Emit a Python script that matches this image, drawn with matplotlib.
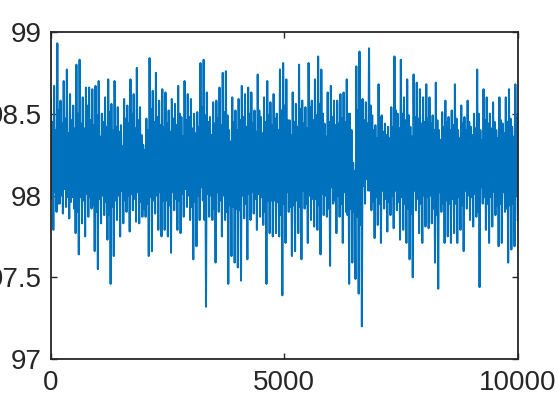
import numpy as np
import matplotlib
matplotlib.use("Agg")
from matplotlib import pyplot as plt

# tops of the spikes, read left to right off the picture
peaks = [98.59, 98.67, 98.93, 98.58, 98.70, 98.77, 98.62, 98.55, 98.80, 98.83,
         98.60, 98.66, 98.66, 98.65, 98.67, 98.70, 98.50, 98.60, 98.71, 98.56,
         98.70, 98.54, 98.43, 98.59, 98.55, 98.71, 98.62, 98.78, 98.54, 98.31,
         98.47, 98.84, 98.64, 98.75, 98.58, 98.65,
         98.63, 98.52, 98.59, 98.56, 98.67, 98.48, 98.70, 98.62, 98.59, 98.50,
         98.51, 98.81, 98.83, 98.63, 98.48, 98.57, 98.58, 98.66, 98.75, 98.76,
         98.40, 98.60, 98.52, 98.59, 98.67, 98.62, 98.66, 98.63, 98.52, 98.74,
         98.48, 98.60, 98.70, 98.57,
         98.62, 98.50, 98.77, 98.81, 98.71, 98.46, 98.63, 98.56, 98.80, 98.58,
         98.54, 98.81, 98.58, 98.71, 98.85, 98.77, 98.44, 98.63, 98.67, 98.58,
         98.58, 98.62, 98.63, 98.71, 98.50, 98.20, 98.79, 98.88, 98.59, 98.57,
         98.90, 98.49, 98.43, 98.68, 98.49, 98.44, 98.42, 98.54,
         98.85, 98.50, 98.83, 98.60, 98.71, 98.42, 98.74, 98.69, 98.65, 98.60,
         98.68, 98.60, 98.49, 98.69, 98.40, 98.51, 98.58, 98.48, 98.52, 98.68,
         98.40, 98.55, 98.48, 98.58, 98.42, 98.50, 98.77, 98.40, 98.65, 98.60,
         98.50, 98.57, 98.40, 98.60, 98.44, 98.60, 98.65, 98.42, 98.68]

# edge of the dense band under the spikes (top side)
band_top = [98.45, 98.40, 98.52, 98.44, 98.47, 98.38, 98.46, 98.41, 98.50, 98.44,
            98.41, 98.55, 98.46, 98.43, 98.49, 98.36, 98.45, 98.42, 98.51, 98.40,
            98.42, 98.39, 98.30, 98.47, 98.44, 98.50, 98.41, 98.46, 98.37, 98.28,
            98.40, 98.53, 98.45, 98.48, 98.43, 98.42,
            98.44, 98.39, 98.47, 98.43, 98.50, 98.36, 98.46, 98.48, 98.41, 98.38,
            98.42, 98.54, 98.49, 98.45, 98.37, 98.44, 98.47, 98.43, 98.51, 98.49,
            98.33, 98.45, 98.40, 98.46, 98.48, 98.42, 98.50, 98.44, 98.39, 98.52,
            98.38, 98.45, 98.49, 98.43,
            98.47, 98.40, 98.52, 98.55, 98.46, 98.37, 98.45, 98.42, 98.53, 98.44,
            98.41, 98.54, 98.46, 98.49, 98.56, 98.50, 98.36, 98.45, 98.48, 98.43,
            98.44, 98.47, 98.45, 98.50, 98.40, 98.15, 98.52, 98.58, 98.46, 98.44,
            98.55, 98.40, 98.35, 98.48, 98.39, 98.37, 98.35, 98.42,
            98.52, 98.41, 98.50, 98.46, 98.49, 98.36, 98.48, 98.47, 98.44, 98.45,
            98.47, 98.44, 98.40, 98.46, 98.34, 98.42, 98.45, 98.40, 98.43, 98.47,
            98.35, 98.44, 98.40, 98.45, 98.37, 98.41, 98.50, 98.34, 98.46, 98.44,
            98.41, 98.45, 98.35, 98.46, 98.38, 98.45, 98.47, 98.36, 98.48]

# edge of the dense band above the dips (bottom side)
band_bottom = [97.98, 98.02, 97.95, 98.00, 98.04, 97.99, 97.96, 97.92, 97.90, 97.99,
               97.97, 98.01, 97.99, 97.94, 97.90, 97.98, 98.00, 97.96, 97.88, 97.93,
               97.97, 98.00, 98.03, 97.97, 98.00, 98.01, 97.98, 98.02, 97.96, 97.92,
               97.95, 97.99, 97.97, 98.00, 98.02, 97.97,
               97.97, 97.94, 98.02, 97.98, 97.97, 98.01, 98.04, 98.00, 97.93, 97.96,
               98.00, 98.05, 97.85, 98.01, 98.00, 97.92, 98.02, 97.97, 98.00, 97.90,
               97.94, 97.93, 97.92, 97.91, 98.00, 97.95, 98.01, 98.02, 97.98, 98.01,
               97.99, 97.90, 97.97, 97.97,
               97.97, 97.96, 97.88, 97.95, 98.02, 97.93, 97.94, 97.97, 97.93, 98.03,
               97.95, 98.00, 97.98, 97.98, 97.94, 98.01, 98.00, 97.92, 98.05, 97.97,
               98.00, 97.95, 98.02, 97.88, 97.92, 97.90, 97.87, 97.82, 98.06, 98.10,
               98.03, 97.96, 97.99, 97.95, 98.03, 97.98, 97.96, 98.00,
               98.03, 97.96, 97.99, 97.95, 97.92, 97.89, 98.03, 97.98, 97.95, 98.00,
               97.99, 98.00, 97.92, 97.88, 98.02, 97.95, 97.97, 97.95, 97.98, 97.95,
               97.99, 97.94, 98.03, 98.00, 97.99, 98.01, 97.90, 98.05, 97.99, 97.95,
               97.99, 98.02, 97.94, 97.95, 98.02, 97.92, 97.94, 97.95, 98.00]

# bottoms of the spikes, same order
troughs = [97.79, 97.90, 97.95, 97.89, 97.93, 97.86, 97.99, 97.77, 97.64, 97.83,
           97.75, 97.87, 97.92, 97.66, 97.55, 97.83, 97.88, 97.73, 97.46, 97.63,
           97.85, 97.75, 97.83, 97.90, 97.78, 97.91, 97.84, 97.83, 97.87, 97.87,
           97.63, 97.66, 97.89, 97.79, 97.75, 97.79,
           97.75, 97.65, 97.91, 97.79, 97.77, 97.87, 97.93, 97.85, 97.61, 97.69,
           97.85, 97.97, 97.32, 97.87, 97.85, 97.59, 97.90, 97.75, 97.85, 97.46,
           97.63, 97.59, 97.56, 97.48, 97.86, 97.61, 97.85, 97.89, 97.79, 97.87,
           97.82, 97.46, 97.77, 97.75,
           97.77, 97.75, 97.39, 97.71, 97.90, 97.63, 97.66, 97.77, 97.61, 97.92,
           97.71, 97.85, 97.81, 97.79, 97.64, 97.88, 97.87, 97.57, 97.95, 97.77,
           97.87, 97.71, 97.90, 97.46, 97.59, 97.49, 97.40, 97.20, 97.95, 98.03,
           97.91, 97.74, 97.82, 97.71, 97.92, 97.78, 97.88, 97.80,
           97.91, 97.73, 97.79, 97.71, 97.61, 97.50, 97.91, 97.77, 97.71, 97.81,
           97.80, 97.83, 97.59, 97.43, 97.90, 97.71, 97.75, 97.71, 97.77, 97.71,
           97.79, 97.66, 97.92, 97.85, 97.81, 97.87, 97.44, 97.95, 97.79, 97.71,
           97.81, 97.88, 97.69, 97.71, 97.90, 97.59, 97.67, 97.69, 97.85]

x_max = 10000
x_ticks = [0, 5000, 10000]
y_ticks = [97, 97.5, 98, 98.5, 99]
y_labels = ["97", "97.5", "98", "98.5", "99"]

n = min(len(peaks), len(band_top), len(band_bottom), len(troughs))
# each column: spike top -> band bottom -> band top -> spike bottom
vals = np.column_stack([peaks[:n], band_bottom[:n], band_top[:n], troughs[:n]]).ravel()
xs = np.linspace(0, x_max, len(vals))

plt.rcParams['font.family'] = ['Liberation Sans', 'DejaVu Sans']
dark = '#262626'

fig = plt.figure(figsize=(5.6, 4.2), dpi=100)
ax = fig.add_axes([0.091, 0.145, 0.8335, 0.779])
ax.plot(xs, vals, color='#0072BD', lw=1.45)

ax.set_xlim(0, x_max)
ax.set_ylim(97, 99)
ax.set_xticks(x_ticks)
ax.set_xticklabels([str(t) for t in x_ticks])
ax.set_yticks(y_ticks)
ax.set_yticklabels(y_labels)
ax.tick_params(direction='in', length=4.5, width=1.0, colors=dark,
               labelsize=20, top=True, right=True)
ax.tick_params(axis='y', pad=6.5)
ax.tick_params(axis='x', pad=8)
for s in ax.spines.values():
    s.set_linewidth(1.3)
    s.set_color(dark)

fig.savefig("out.png", dpi=100)
